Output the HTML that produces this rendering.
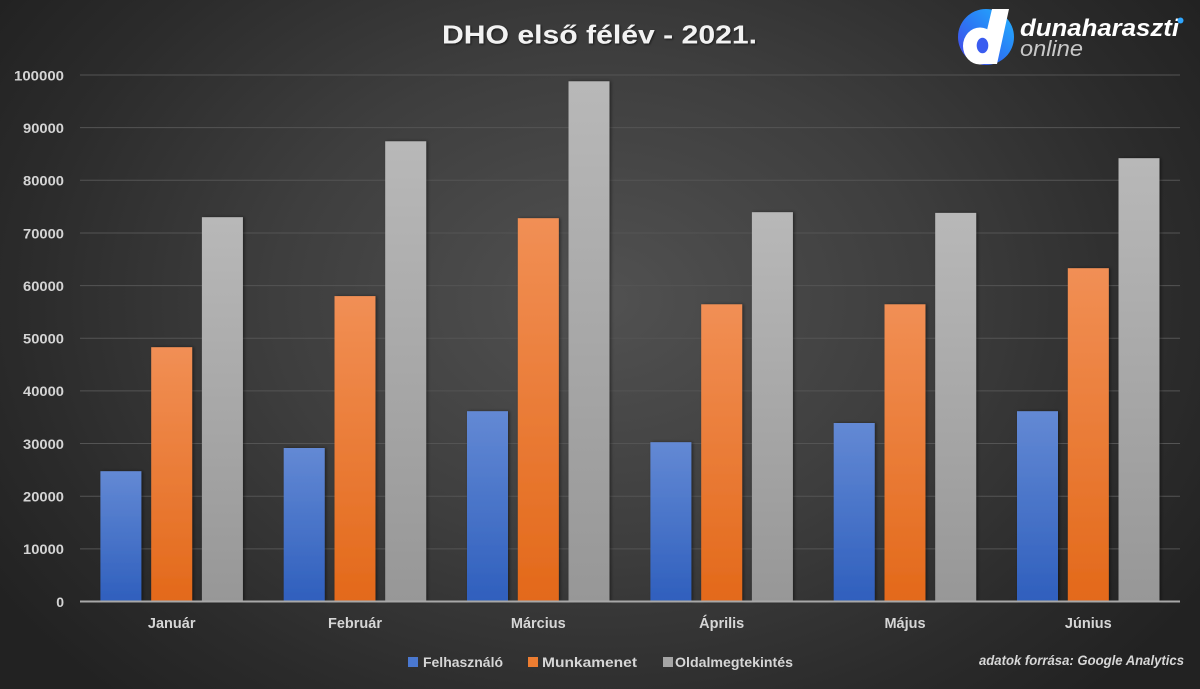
<!DOCTYPE html>
<html>
<head>
<meta charset="utf-8">
<style>
  html,body{margin:0;padding:0;width:1200px;height:689px;overflow:hidden;background:#2a2a2a;}
  svg{display:block;}
  text{font-family:"Liberation Sans", "DejaVu Sans", sans-serif;}
</style>
</head>
<body>
<svg width="1200" height="689" viewBox="0 0 1200 689" xmlns="http://www.w3.org/2000/svg">
  <defs>
    <radialGradient id="bg" cx="600" cy="300" r="720" gradientUnits="userSpaceOnUse" gradientTransform="translate(600 300) scale(1 0.75) translate(-600 -300)">
      <stop offset="0" stop-color="#515151"/>
      <stop offset="0.45" stop-color="#3e3e3e"/>
      <stop offset="0.8" stop-color="#2b2b2b"/>
      <stop offset="1" stop-color="#222222"/>
    </radialGradient>
    <linearGradient id="gb" x1="0" y1="0" x2="0" y2="1">
      <stop offset="0" stop-color="#6389d4"/>
      <stop offset="1" stop-color="#2f5fbd"/>
    </linearGradient>
    <linearGradient id="go" x1="0" y1="0" x2="0" y2="1">
      <stop offset="0" stop-color="#f18f55"/>
      <stop offset="1" stop-color="#e3691a"/>
    </linearGradient>
    <linearGradient id="gg" x1="0" y1="0" x2="0" y2="1">
      <stop offset="0" stop-color="#b8b8b8"/>
      <stop offset="1" stop-color="#979797"/>
    </linearGradient>
    <linearGradient id="logo" x1="1" y1="0" x2="0" y2="1">
      <stop offset="0" stop-color="#22b4ff"/>
      <stop offset="0.5" stop-color="#2a7cf5"/>
      <stop offset="1" stop-color="#4a3fe6"/>
    </linearGradient>
    <filter id="sh" x="-20%" y="-5%" width="140%" height="110%">
      <feDropShadow dx="1.5" dy="0" stdDeviation="1.5" flood-color="#000" flood-opacity="0.45"/>
    </filter>
    <filter id="tsh" x="-5%" y="-20%" width="110%" height="140%">
      <feDropShadow dx="1" dy="1" stdDeviation="1" flood-color="#000" flood-opacity="0.6"/>
    </filter>
  </defs>

  <rect x="0" y="0" width="1200" height="689" fill="url(#bg)"/>

  <!-- Title -->
  <text x="599.5" y="43.5" text-anchor="middle" font-size="26" font-weight="bold" fill="#f2f2f2" textLength="315" lengthAdjust="spacingAndGlyphs" filter="url(#tsh)">DHO első félév - 2021.</text>

  <!-- Logo -->
  <circle cx="986" cy="37" r="28" fill="url(#logo)"/>
  <g fill="#ffffff">
    <polygon points="992,9 1009,9 997,64 979,64"/>
    <ellipse cx="980" cy="46" rx="17" ry="18.5"/>
  </g>
  <ellipse cx="982.5" cy="45.5" rx="5.8" ry="7.8" fill="#3a5cf0"/>
  <text x="1020" y="36" font-size="24" font-weight="bold" font-style="italic" fill="#ffffff" textLength="159" lengthAdjust="spacingAndGlyphs">dunaharaszti</text>
  <circle cx="1180.5" cy="20.5" r="3" fill="#2ea6ff"/>
  <text x="1020" y="56" font-size="22" font-style="italic" fill="#c8c8c8" textLength="63" lengthAdjust="spacingAndGlyphs" font-weight="normal">online</text>

  <!-- Gridlines -->
  <g stroke="#545454" stroke-width="1">
    <line x1="80" y1="548.85" x2="1180" y2="548.85"/>
    <line x1="80" y1="496.2" x2="1180" y2="496.2"/>
    <line x1="80" y1="443.55" x2="1180" y2="443.55"/>
    <line x1="80" y1="390.9" x2="1180" y2="390.9"/>
    <line x1="80" y1="338.25" x2="1180" y2="338.25"/>
    <line x1="80" y1="285.6" x2="1180" y2="285.6"/>
    <line x1="80" y1="232.95" x2="1180" y2="232.95"/>
    <line x1="80" y1="180.3" x2="1180" y2="180.3"/>
    <line x1="80" y1="127.65" x2="1180" y2="127.65"/>
    <line x1="80" y1="75" x2="1180" y2="75"/>
  </g>

  <!-- Y tick labels -->
  <g font-size="14" font-weight="bold" fill="#d4d4d4" text-anchor="end">
    <text x="64" y="606.8">0</text>
    <text x="64" y="554.2" textLength="41" lengthAdjust="spacingAndGlyphs">10000</text>
    <text x="64" y="501.5" textLength="41" lengthAdjust="spacingAndGlyphs">20000</text>
    <text x="64" y="448.9" textLength="41" lengthAdjust="spacingAndGlyphs">30000</text>
    <text x="64" y="396.2" textLength="41" lengthAdjust="spacingAndGlyphs">40000</text>
    <text x="64" y="343.6" textLength="41" lengthAdjust="spacingAndGlyphs">50000</text>
    <text x="64" y="290.9" textLength="41" lengthAdjust="spacingAndGlyphs">60000</text>
    <text x="64" y="238.3" textLength="41" lengthAdjust="spacingAndGlyphs">70000</text>
    <text x="64" y="185.6" textLength="41" lengthAdjust="spacingAndGlyphs">80000</text>
    <text x="64" y="133" textLength="41" lengthAdjust="spacingAndGlyphs">90000</text>
    <text x="64" y="80.3" textLength="50" lengthAdjust="spacingAndGlyphs">100000</text>
  </g>

  <!-- Bars -->
  <g filter="url(#sh)">
    <rect x="100.4" y="471.2" width="41" height="130.3" fill="url(#gb)"/>
    <rect x="151.2" y="347.2" width="41" height="254.3" fill="url(#go)"/>
    <rect x="201.9" y="217.2" width="41" height="384.3" fill="url(#gg)"/>
    <rect x="283.7" y="448.0" width="41" height="153.5" fill="url(#gb)"/>
    <rect x="334.5" y="296.1" width="41" height="305.4" fill="url(#go)"/>
    <rect x="385.2" y="141.3" width="41" height="460.2" fill="url(#gg)"/>
    <rect x="467.0" y="411.2" width="41" height="190.3" fill="url(#gb)"/>
    <rect x="517.8" y="218.2" width="41" height="383.3" fill="url(#go)"/>
    <rect x="568.5" y="81.3" width="41" height="520.2" fill="url(#gg)"/>
    <rect x="650.4" y="442.2" width="41" height="159.3" fill="url(#gb)"/>
    <rect x="701.2" y="304.3" width="41" height="297.2" fill="url(#go)"/>
    <rect x="751.9" y="212.2" width="41" height="389.3" fill="url(#gg)"/>
    <rect x="833.7" y="423.0" width="41" height="178.5" fill="url(#gb)"/>
    <rect x="884.5" y="304.3" width="41" height="297.2" fill="url(#go)"/>
    <rect x="935.2" y="212.9" width="41" height="388.6" fill="url(#gg)"/>
    <rect x="1017.0" y="411.2" width="41" height="190.3" fill="url(#gb)"/>
    <rect x="1067.8" y="268.2" width="41" height="333.3" fill="url(#go)"/>
    <rect x="1118.5" y="158.2" width="41" height="443.3" fill="url(#gg)"/>
  </g>

  <!-- X axis line -->
  <line x1="80" y1="601.5" x2="1180" y2="601.5" stroke="#a8a8a8" stroke-width="2"/>

  <!-- Category labels -->
  <g font-size="14.5" font-weight="bold" fill="#d6d6d6" text-anchor="middle">
    <text x="171.7" y="628">Január</text>
    <text x="355" y="628">Február</text>
    <text x="538.3" y="628">Március</text>
    <text x="721.7" y="628">Április</text>
    <text x="905" y="628">Május</text>
    <text x="1088.3" y="628">Június</text>
  </g>

  <!-- Legend -->
  <rect x="408" y="657" width="10" height="10" fill="#4a78d0"/>
  <text x="423" y="667" font-size="14" font-weight="bold" fill="#d6d6d6" textLength="80" lengthAdjust="spacingAndGlyphs">Felhasználó</text>
  <rect x="528" y="657" width="10" height="10" fill="#ed7d31"/>
  <text x="542" y="667" font-size="14" font-weight="bold" fill="#d6d6d6" textLength="95" lengthAdjust="spacingAndGlyphs">Munkamenet</text>
  <rect x="663" y="657" width="10" height="10" fill="#a5a5a5"/>
  <text x="675" y="667" font-size="14" font-weight="bold" fill="#d6d6d6" textLength="118" lengthAdjust="spacingAndGlyphs">Oldalmegtekintés</text>

  <!-- Source -->
  <text x="979" y="665" font-size="13.5" font-weight="bold" font-style="italic" fill="#d6d6d6" textLength="205" lengthAdjust="spacingAndGlyphs">adatok forrása: Google Analytics</text>
</svg>
</body>
</html>
